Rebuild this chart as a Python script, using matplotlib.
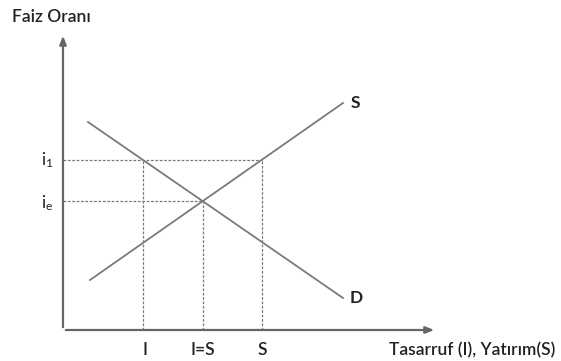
import matplotlib.pyplot as plt
import numpy as np

# coordinates in the picture's own frame (origin at axes corner, y upward)
origin = (63, 31)
x_end = 437
y_end = 328

supply_x = [90, 343]
supply_y = [81, 258]
demand_x = [88, 343]
demand_y = [239, 63]

i1_level = 201
ie_level = 160
x_ticks = [145, 203, 262]
x_tick_labels = ["I", "I=S", "S"]

line_col = "#7a7a7a"
text_col = "#222222"

plt.rcParams['font.family'] = ['Lato', 'DejaVu Sans']
plt.rcParams['mathtext.default'] = 'regular'

fig = plt.figure(figsize=(5.61, 3.61), dpi=100)
ax = fig.add_axes([0, 0, 1, 1])
ax.set_xlim(0, 561)
ax.set_ylim(0, 361)
ax.axis("off")

# axes with arrows
ax.annotate("", xy=(x_end, origin[1]), xytext=(origin[0], origin[1]),
            arrowprops=dict(arrowstyle="-|>,head_length=0.5,head_width=0.2", color="#666666", lw=1.6))
ax.annotate("", xy=(origin[0], y_end), xytext=(origin[0], origin[1]),
            arrowprops=dict(arrowstyle="-|>,head_length=0.5,head_width=0.2", color="#666666", lw=1.6))

# supply and demand
ax.plot(supply_x, supply_y, color=line_col, lw=1.3)
ax.plot(demand_x, demand_y, color=line_col, lw=1.3)

# intersection helper
def x_at(xs, ys, y):
    return xs[0] + (y - ys[0]) * (xs[1] - xs[0]) / (ys[1] - ys[0])

xd1 = x_at(demand_x, demand_y, i1_level)
xs1 = x_at(supply_x, supply_y, i1_level)
xe = x_at(supply_x, supply_y, ie_level)

dash = dict(color=line_col, lw=0.9, ls=(0, (2.2, 1.3)))
ax.plot([origin[0], xs1], [i1_level, i1_level], **dash)
ax.plot([origin[0], xe], [ie_level, ie_level], **dash)
for xv, top in [(xd1, i1_level), (xe, ie_level), (xs1, i1_level)]:
    ax.plot([xv, xv], [origin[1], top], **dash)

# labels
fs = 12.5
tw = "semibold"
ax.text(12, 344, "Faiz Oranı", fontsize=fs, color=text_col, va="center", ha="left", fontweight=tw)
ax.text(47, i1_level, "$i_1$", fontsize=fs, color=text_col, va="center", ha="center")
ax.text(47, ie_level - 2, "$i_e$", fontsize=fs, color=text_col, va="center", ha="center")
for xv, lab in zip(x_ticks, x_tick_labels):
    ax.text(xv, 11, lab, fontsize=fs, color=text_col, va="center", ha="center", fontweight=tw)
ax.text(555, 11, "Tasarruf (I), Yatırım(S)", fontsize=fs, color=text_col, va="center", ha="right", fontweight=tw)
ax.text(355, supply_y[1], "S", fontsize=fs, color=text_col, va="center", ha="center", fontweight="bold")
ax.text(356, demand_y[1], "D", fontsize=fs, color=text_col, va="center", ha="center", fontweight="bold")

fig.savefig("out.png", dpi=100)
